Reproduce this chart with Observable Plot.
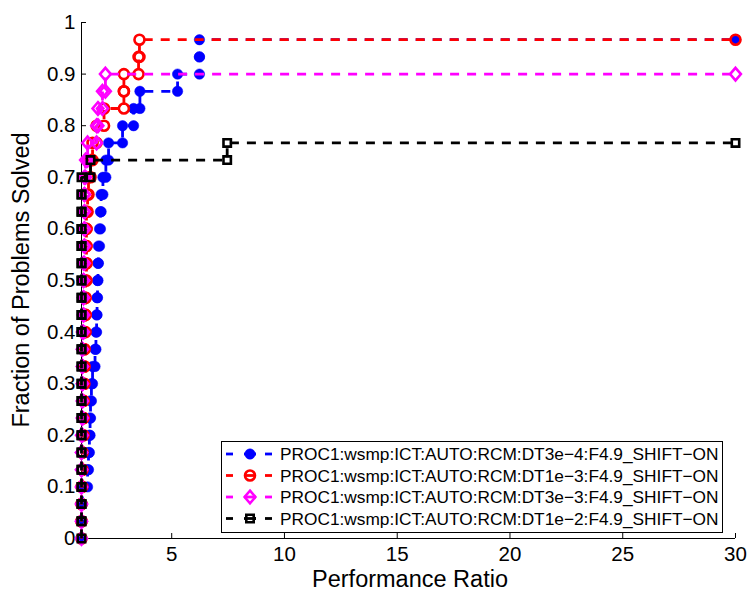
<!DOCTYPE html>
<html><head><meta charset="utf-8">
<script src="https://cdn.jsdelivr.net/npm/d3@7"></script>
<script src="https://cdn.jsdelivr.net/npm/@observablehq/plot@0.6"></script>
<style>
body{margin:0;background:#fff;}
#chart{position:relative;width:750px;height:592px;font-family:"Liberation Sans",Arial,sans-serif;}
#legend{position:absolute;left:221px;top:441px;}
</style></head><body><div id="chart"></div>
<script>
const nProblems = 30;
const xTicks = [5, 10, 15, 20, 25, 30];
const yTicks = [0, 0.1, 0.2, 0.3, 0.4, 0.5, 0.6, 0.7, 0.8, 0.9, 1];
const yTickLabels = ["0", "0.1", "0.2", "0.3", "0.4", "0.5", "0.6", "0.7", "0.8", "0.9", "1"];
const xDomain = [1, 30];

const seriesNames = [
  "PROC1:wsmp:ICT:AUTO:RCM:DT3e\u22124:F4.9_SHIFT\u2212ON",
  "PROC1:wsmp:ICT:AUTO:RCM:DT1e\u22123:F4.9_SHIFT\u2212ON",
  "PROC1:wsmp:ICT:AUTO:RCM:DT3e\u22123:F4.9_SHIFT\u2212ON",
  "PROC1:wsmp:ICT:AUTO:RCM:DT1e\u22122:F4.9_SHIFT\u2212ON"
];
const seriesColors = ["#0000ff", "#ff0000", "#ff00ff", "#000000"];

// sorted performance ratios of solved problems (one per problem)
const ratiosDT3e4 = [1.00, 1.00, 1.04, 1.27, 1.31, 1.35, 1.38, 1.40, 1.44, 1.49, 1.60, 1.64, 1.67, 1.69, 1.71,
  1.73, 1.75, 1.80, 1.84, 1.87, 1.95, 2.08, 2.20, 2.82, 3.31, 3.59, 5.26, 6.23, 6.23];
const ratiosDT1e3 = [1.00, 1.00, 1.00, 1.04, 1.04, 1.04, 1.09, 1.09, 1.09, 1.13, 1.13, 1.13, 1.18, 1.18, 1.18,
  1.22, 1.22, 1.22, 1.22, 1.27, 1.31, 1.40, 1.49, 1.67, 2.00, 2.88, 2.88, 3.53, 3.57];
const ratiosDT3e3 = [1.00, 1.00, 1.00, 1.00, 1.00, 1.00, 1.04, 1.04, 1.04, 1.04, 1.04, 1.04, 1.09, 1.09, 1.09,
  1.09, 1.13, 1.13, 1.13, 1.13, 1.13, 1.18, 1.27, 1.67, 1.73, 1.93, 2.06];
const ratiosDT1e2 = [1.00, 1.00, 1.00, 1.00, 1.00, 1.00, 1.00, 1.00, 1.00, 1.00, 1.00, 1.00, 1.00, 1.00, 1.00,
  1.00, 1.00, 1.00, 1.00, 1.00, 1.00, 1.40, 7.46];
const seriesRatios = [ratiosDT3e4, ratiosDT1e3, ratiosDT3e3, ratiosDT1e2];

// stairs vertices of a performance profile
function stairs(ratios, s) {
  const pts = [];
  ratios.forEach((r, i) => {
    pts.push({s, x: r, y: i / nProblems});
    pts.push({s, x: r, y: (i + 1) / nProblems});
  });
  pts.push({s, x: xDomain[1], y: ratios.length / nProblems});
  return pts;
}

const symDisc = {draw(c) { c.arc(0, 0, 5.2, 0, 2 * Math.PI); }};
const symCircle = {draw(c) { c.arc(0, 0, 5, 0, 2 * Math.PI); }};
const symDiamond = {draw(c) { c.moveTo(0, -6.3); c.lineTo(5.4, 0); c.lineTo(0, 6.3); c.lineTo(-5.4, 0); c.closePath(); }};
const symSquare = {draw(c) { c.rect(-3.7, -3.7, 7.4, 7.4); }};
const seriesSymbols = [symDisc, symCircle, symDiamond, symSquare];
const seriesFilled = [true, false, false, false];

const seriesMarks = [];
seriesRatios.forEach((ratios, s) => {
  const pts = stairs(ratios, s);
  seriesMarks.push(Plot.line(pts, {x: "x", y: "y", stroke: seriesColors[s], strokeWidth: 2.8,
    strokeDasharray: "9,8", strokeLinejoin: "miter", strokeLinecap: "butt"}));
  seriesMarks.push(Plot.dot(pts, {x: "x", y: "y", r: 5, symbol: seriesSymbols[s],
    fill: seriesFilled[s] ? seriesColors[s] : "none", stroke: seriesColors[s], strokeWidth: seriesFilled[s] ? 0.5 : 2.6}));
});

const chart = Plot.plot({
  width: 750, height: 592,
  marginLeft: 81, marginRight: 15, marginTop: 22, marginBottom: 54,
  style: {fontFamily: "'Liberation Sans', Arial, sans-serif", fontSize: "20px", background: "white", color: "black", overflow: "visible"},
  x: {domain: xDomain},
  y: {domain: [0, 1]},
  marks: [
    Plot.axisX({ticks: xTicks, tickSize: 0, tickPadding: 8, label: null, fontSize: 20.5}),
    Plot.axisY({ticks: yTicks, tickSize: 0, tickPadding: 6, label: null, fontSize: 20.5,
      tickFormat: d => yTickLabels[yTicks.indexOf(d)]}),
    Plot.ruleX(xTicks, {y1: 0, y2: 0, insetBottom: 5, stroke: "#000"}),
    Plot.ruleY(yTicks, {x1: 1, x2: 1, insetLeft: 5, stroke: "#000"}),
    Plot.ruleY([0], {stroke: "#000"}),
    Plot.ruleX([xDomain[0]], {stroke: "#000"}),
    ...seriesMarks
  ]
});
document.getElementById("chart").appendChild(chart);

// axis titles
const svg = d3.select(chart);
svg.append("text").attr("x", 410).attr("y", 587).attr("text-anchor", "middle")
  .attr("font-size", 23.5).attr("fill", "#000").text("Performance Ratio");
svg.append("text").attr("transform", "translate(29,280) rotate(-90)").attr("text-anchor", "middle")
  .attr("font-size", 23.5).attr("fill", "#000").text("Fraction of Problems Solved");

// legend
const lg = d3.select("#chart").append("svg").attr("id", "legend").attr("width", 502).attr("height", 92)
  .style("font-family", "'Liberation Sans', Arial, sans-serif");
lg.append("rect").attr("x", 0.5).attr("y", 0.5).attr("width", 501).attr("height", 91)
  .attr("fill", "#fff").attr("stroke", "#000").attr("stroke-width", 1);
seriesNames.forEach((name, s) => {
  const cy = 13 + s * 21.5;
  const g = lg.append("g").attr("transform", `translate(0,${cy})`);
  [[5, 12], [23, 35], [44, 51]].forEach(([a, b]) =>
    g.append("line").attr("x1", a).attr("x2", b).attr("y1", 0).attr("y2", 0)
      .attr("stroke", seriesColors[s]).attr("stroke-width", 2.8));
  g.append("path").attr("transform", "translate(29,0)")
    .attr("d", d3.symbol(seriesSymbols[s])())
    .attr("fill", seriesFilled[s] ? seriesColors[s] : "none").attr("stroke", seriesColors[s])
    .attr("stroke-width", seriesFilled[s] ? 0.5 : 2.6);
  g.append("text").attr("x", 59).attr("y", 0).attr("dy", "0.35em").attr("font-size", 17.3)
    .attr("fill", "#000").text(name);
});
</script></body></html>
